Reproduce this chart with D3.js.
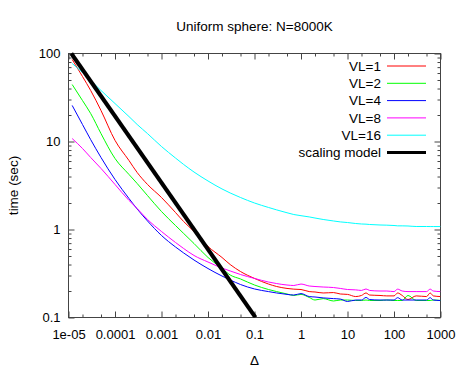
<!DOCTYPE html>
<html>
<head>
<meta charset="utf-8">
<script src="https://cdn.jsdelivr.net/npm/d3@7"></script>
<style>
  body { margin: 0; background: #fff; }
  svg text { font-family: "Liberation Sans", Arial, Helvetica, sans-serif; font-size: 13px; fill: #000; }
  svg text.big { font-size: 13.5px; }
</style>
</head>
<body>
<svg id="chart" width="463" height="371"></svg>
<script>
// Delta values shared by all measured series
var delta = [1.2e-5, 2e-5, 3e-5, 5e-5, 1e-4, 2e-4, 3e-4, 5e-4, 1e-3, 2e-3, 3e-3, 5e-3,
    0.01, 0.02, 0.03, 0.05, 0.1, 0.2, 0.3, 0.5, 0.7, 1, 1.5, 2, 3, 5, 7, 10, 15, 20, 25, 30,
    50, 70, 100, 120, 150, 200, 300, 500, 600, 700, 1000];

// time (sec) per vector length
var vl1 = [85.5, 54.8, 38.0, 22.5, 10.3, 6.08, 4.44, 3.25, 2.31, 1.56, 1.23, 0.949,
    0.641, 0.481, 0.400, 0.333, 0.278, 0.240, 0.225, 0.214, 0.210, 0.208, 0.197, 0.195,
    0.190, 0.192, 0.185, 0.183, 0.173, 0.178, 0.190, 0.180, 0.178, 0.176, 0.176, 0.190,
    0.178, 0.160, 0.176, 0.173, 0.190, 0.176, 0.173];
var vl2 = [44.4, 29.2, 20.8, 12.3, 6.41, 4.22, 3.33, 2.43, 1.60, 1.11, 0.901, 0.693,
    0.481, 0.361, 0.304, 0.274, 0.234, 0.208, 0.197, 0.185, 0.178, 0.183, 0.169, 0.158,
    0.164, 0.154, 0.158, 0.158, 0.156, 0.156, 0.158, 0.156, 0.156, 0.158, 0.156, 0.156,
    0.156, 0.178, 0.156, 0.156, 0.156, 0.158, 0.156];
var vl4 = [25.7, 15.6, 10.5, 6.58, 3.70, 2.25, 1.71, 1.25, 0.855, 0.633, 0.541, 0.450,
    0.360, 0.296, 0.267, 0.237, 0.211, 0.197, 0.190, 0.183, 0.180, 0.187, 0.173, 0.171,
    0.167, 0.164, 0.162, 0.152, 0.158, 0.158, 0.169, 0.160, 0.158, 0.158, 0.158, 0.168,
    0.158, 0.158, 0.158, 0.158, 0.168, 0.158, 0.156];
var vl8 = [10.8, 8.33, 6.58, 4.94, 3.25, 2.14, 1.73, 1.30, 0.949, 0.712, 0.608, 0.507,
    0.427, 0.365, 0.338, 0.308, 0.278, 0.253, 0.243, 0.234, 0.231, 0.240, 0.228, 0.225,
    0.222, 0.219, 0.214, 0.208, 0.206, 0.203, 0.211, 0.203, 0.200, 0.200, 0.197, 0.210,
    0.200, 0.197, 0.197, 0.197, 0.210, 0.200, 0.197];
var vl16 = [76.9, 60.8, 49.3, 38.0, 27.0, 19.2, 15.6, 12.3, 8.77, 6.49, 5.48, 4.50,
    3.56, 2.89, 2.60, 2.31, 2.00, 1.78, 1.67, 1.55, 1.48, 1.435, 1.39, 1.35,
    1.30, 1.25, 1.22, 1.20, 1.17, 1.155, 1.15, 1.14, 1.125, 1.12, 1.11, 1.10,
    1.10, 1.096, 1.082, 1.082, 1.08, 1.08, 1.08];

// scaling model (straight line in log-log)
var modelDelta = [1.15e-5, 0.105];
var modelTime = [100, 0.1];

var seriesNames = ["VL=1", "VL=2", "VL=4", "VL=8", "VL=16", "scaling model"];
var seriesColors = ["#ff0000", "#00ff00", "#0000ff", "#ff00ff", "#00ffff", "#000000"];

var xTicks = [1e-5, 1e-4, 1e-3, 1e-2, 0.1, 1, 10, 100, 1000];
var xTickLabels = ["1e-05", "0.0001", "0.001", "0.01", "0.1", "1", "10", "100", "1000"];
var yTicks = [0.1, 1, 10, 100];
var yTickLabels = ["0.1", "1", "10", "100"];

var plotLeft = 68.5, plotRight = 440.5, plotTop = 53.5, plotBottom = 317.5;

var svg = d3.select("#chart");

var x = d3.scaleLog().domain([1e-5, 1000]).range([plotLeft, plotRight]);
var y = d3.scaleLog().domain([0.1, 100]).range([plotBottom, plotTop]);

// minor ticks: x at 2 and 5 of each decade, y at 2..9
var xMinor = [], yMinor = [];
xTicks.slice(0, -1).forEach(function (d) {
    xMinor.push(d * 2, d * 5);
});
yTicks.slice(0, -1).forEach(function (d) {
    for (var k = 2; k <= 9; k++) yMinor.push(d * k);
});

var axisColor = "#444";

function styleAxis(g) {
    g.select(".domain").remove();
    g.selectAll("line").attr("stroke", axisColor);
    g.selectAll("text")
        .attr("font-family", null)
        .attr("font-size", null)
        .attr("fill", "#000");
}

// bottom
svg.append("g").attr("transform", "translate(0," + plotBottom + ")")
    .call(d3.axisBottom(x).tickValues(xTicks).tickFormat(function (d, i) { return xTickLabels[i]; })
        .tickSize(-6).tickPadding(12))
    .call(styleAxis);
svg.append("g").attr("transform", "translate(0," + plotBottom + ")")
    .call(d3.axisBottom(x).tickValues(xMinor).tickFormat("").tickSize(-3))
    .call(styleAxis);
// top mirror
svg.append("g").attr("transform", "translate(0," + plotTop + ")")
    .call(d3.axisTop(x).tickValues(xTicks).tickFormat("").tickSize(-6))
    .call(styleAxis);
svg.append("g").attr("transform", "translate(0," + plotTop + ")")
    .call(d3.axisTop(x).tickValues(xMinor).tickFormat("").tickSize(-3))
    .call(styleAxis);
// left
svg.append("g").attr("transform", "translate(" + plotLeft + ",0)")
    .call(d3.axisLeft(y).tickValues(yTicks).tickFormat(function (d, i) { return yTickLabels[i]; })
        .tickSize(-6).tickPadding(8))
    .call(styleAxis);
svg.append("g").attr("transform", "translate(" + plotLeft + ",0)")
    .call(d3.axisLeft(y).tickValues(yMinor).tickFormat("").tickSize(-3))
    .call(styleAxis);
// right mirror
svg.append("g").attr("transform", "translate(" + plotRight + ",0)")
    .call(d3.axisRight(y).tickValues(yTicks).tickFormat("").tickSize(-6))
    .call(styleAxis);
svg.append("g").attr("transform", "translate(" + plotRight + ",0)")
    .call(d3.axisRight(y).tickValues(yMinor).tickFormat("").tickSize(-3))
    .call(styleAxis);

// border
svg.append("rect")
    .attr("x", plotLeft).attr("y", plotTop)
    .attr("width", plotRight - plotLeft).attr("height", plotBottom - plotTop)
    .attr("fill", "none").attr("stroke", axisColor);

// clip for the curves
svg.append("clipPath").attr("id", "plot-clip")
    .append("rect")
    .attr("x", plotLeft).attr("y", plotTop - 2)
    .attr("width", plotRight - plotLeft).attr("height", plotBottom - plotTop + 2);

var line = d3.line()
    .x(function (d) { return x(d[0]); })
    .y(function (d) { return y(d[1]); })
    .curve(d3.curveMonotoneX);

var plot = svg.append("g").attr("clip-path", "url(#plot-clip)");

var series = [vl1, vl2, vl4, vl8, vl16];
series.forEach(function (vals, i) {
    plot.append("path")
        .datum(d3.zip(delta, vals))
        .attr("fill", "none")
        .attr("stroke", seriesColors[i])
        .attr("stroke-width", 1)
        .attr("d", line);
});

plot.append("path")
    .datum(d3.zip(modelDelta, modelTime))
    .attr("fill", "none")
    .attr("stroke", seriesColors[5])
    .attr("stroke-width", 4)
    .attr("d", d3.line().x(function (d) { return x(d[0]); }).y(function (d) { return y(d[1]); }));

// legend
var legend = svg.append("g");
seriesNames.forEach(function (name, i) {
    var ly = 66 + i * 17.3;
    legend.append("text")
        .attr("class", "big")
        .attr("x", 381).attr("y", ly).attr("dy", "0.35em")
        .attr("text-anchor", "end")
        .text(name);
    legend.append("line")
        .attr("x1", 387).attr("x2", 426)
        .attr("y1", ly).attr("y2", ly)
        .attr("stroke", seriesColors[i])
        .attr("stroke-width", i === 5 ? 3 : 1);
});

// title and axis labels
svg.append("text")
    .attr("class", "big")
    .attr("x", (plotLeft + plotRight) / 2).attr("y", 31)
    .attr("text-anchor", "middle")
    .text("Uniform sphere: N=8000K");

svg.append("text")
    .attr("class", "big")
    .attr("x", (plotLeft + plotRight) / 2).attr("y", 365)
    .attr("text-anchor", "middle")
    .text("\u0394");

svg.append("text")
    .attr("class", "big")
    .attr("transform", "translate(18," + (plotTop + plotBottom) / 2 + ") rotate(-90)")
    .attr("text-anchor", "middle")
    .text("time (sec)");
</script>
</body>
</html>
